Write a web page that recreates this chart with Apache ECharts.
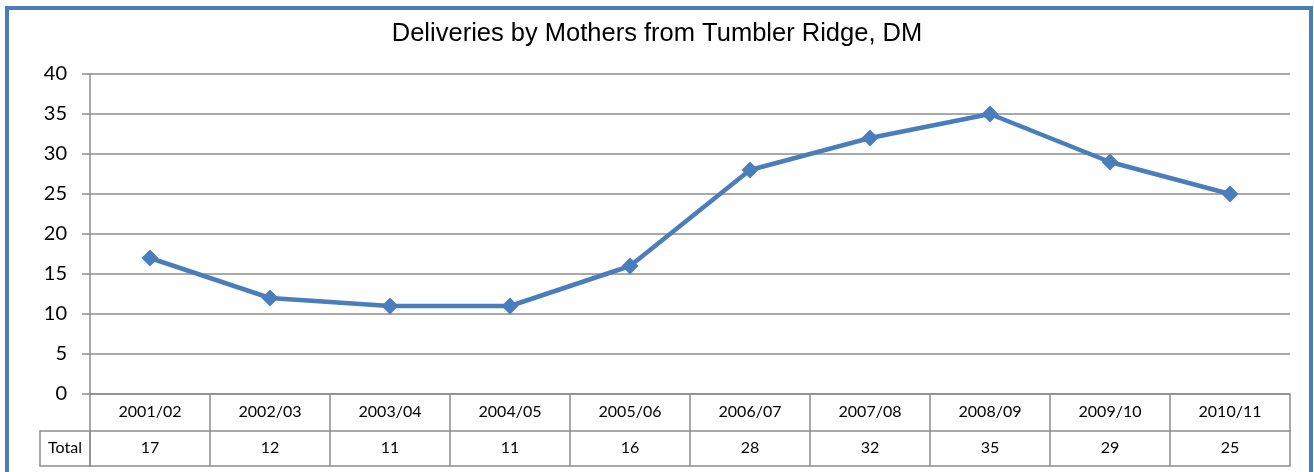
<!DOCTYPE html>
<html>
<head>
<meta charset="utf-8">
<script src="https://cdn.jsdelivr.net/npm/echarts@6/dist/echarts.min.js"></script>
<style>
  html, body { margin: 0; padding: 0; background: #fff; }
  #chart { width: 1314px; height: 472px; }
</style>
</head>
<body>
<div id="chart"></div>
<script>
// data
const chartTitle = 'Deliveries by Mothers from Tumbler Ridge, DM';
const years = ['2001/02', '2002/03', '2003/04', '2004/05', '2005/06', '2006/07', '2007/08', '2008/09', '2009/10', '2010/11'];
const totals = [17, 12, 11, 11, 16, 28, 32, 35, 29, 25];
const rowName = 'Total';

const blue = '#4a7ebb';
const gridGray = '#8c8c8c';
const tableFont = 'Lato, "Open Sans", sans-serif';

const chart = echarts.init(document.getElementById('chart'));
chart.setOption({
    animation: false,
    backgroundColor: '#fff',
    title: {
        text: chartTitle,
        left: 'center',
        top: 16,
        textStyle: { fontFamily: '"Liberation Sans", Arial, sans-serif', fontSize: 25.5, fontWeight: 'normal', color: '#000' }
    },
    grid: { left: 90, top: 74, width: 1200, height: 320 },
    xAxis: [
        { // table header row: categories
            type: 'category',
            data: years,
            boundaryGap: true,
            axisLine: { lineStyle: { color: gridGray, width: 1.5 } },
            axisTick: { show: true, interval: 0, length: 72, lineStyle: { color: gridGray, width: 1.5 } },
            axisLabel: { interval: 0, margin: 10, fontFamily: tableFont, fontSize: 16, color: '#000' }
        },
        { // table value row
            type: 'category',
            data: totals.map(String),
            boundaryGap: true,
            position: 'bottom',
            offset: 37,
            axisLine: { lineStyle: { color: gridGray, width: 1.5 } },
            axisTick: { show: false },
            axisLabel: { interval: 0, margin: 9, fontFamily: tableFont, fontSize: 16, color: '#000' }
        },
        { // bottom border of the table
            type: 'category',
            data: years,
            boundaryGap: true,
            position: 'bottom',
            offset: 72,
            axisLine: { lineStyle: { color: gridGray, width: 1.5 } },
            axisTick: { show: false },
            axisLabel: { show: false }
        }
    ],
    yAxis: {
        type: 'value',
        min: 0,
        max: 40,
        interval: 5,
        axisLine: { show: true, lineStyle: { color: gridGray, width: 1.5 } },
        axisTick: { show: true, length: 8, lineStyle: { color: gridGray, width: 1.5 } },
        axisLabel: { margin: 23, fontFamily: tableFont, fontSize: 20, color: '#000' },
        splitLine: { lineStyle: { color: gridGray, width: 1.5 } }
    },
    graphic: [
        { // outer chart frame
            type: 'rect',
            shape: { x: 7, y: 8, width: 1304, height: 480 },
            style: { fill: 'none', stroke: blue, lineWidth: 4 },
            silent: true
        },
        { // row header cell of the data table
            type: 'rect',
            shape: { x: 40, y: 431, width: 50, height: 35 },
            style: { fill: 'none', stroke: gridGray, lineWidth: 1.5 },
            silent: true
        },
        {
            type: 'text',
            x: 65,
            y: 448,
            style: { text: rowName, font: '16px ' + tableFont, fill: '#000', align: 'center', verticalAlign: 'middle' },
            silent: true
        }
    ],
    series: [{
        name: rowName,
        type: 'line',
        data: totals,
        xAxisIndex: 0,
        symbol: 'diamond',
        symbolSize: 17,
        lineStyle: { color: blue, width: 4.5 },
        itemStyle: { color: blue },
        z: 5
    }]
});
</script>
</body>
</html>
